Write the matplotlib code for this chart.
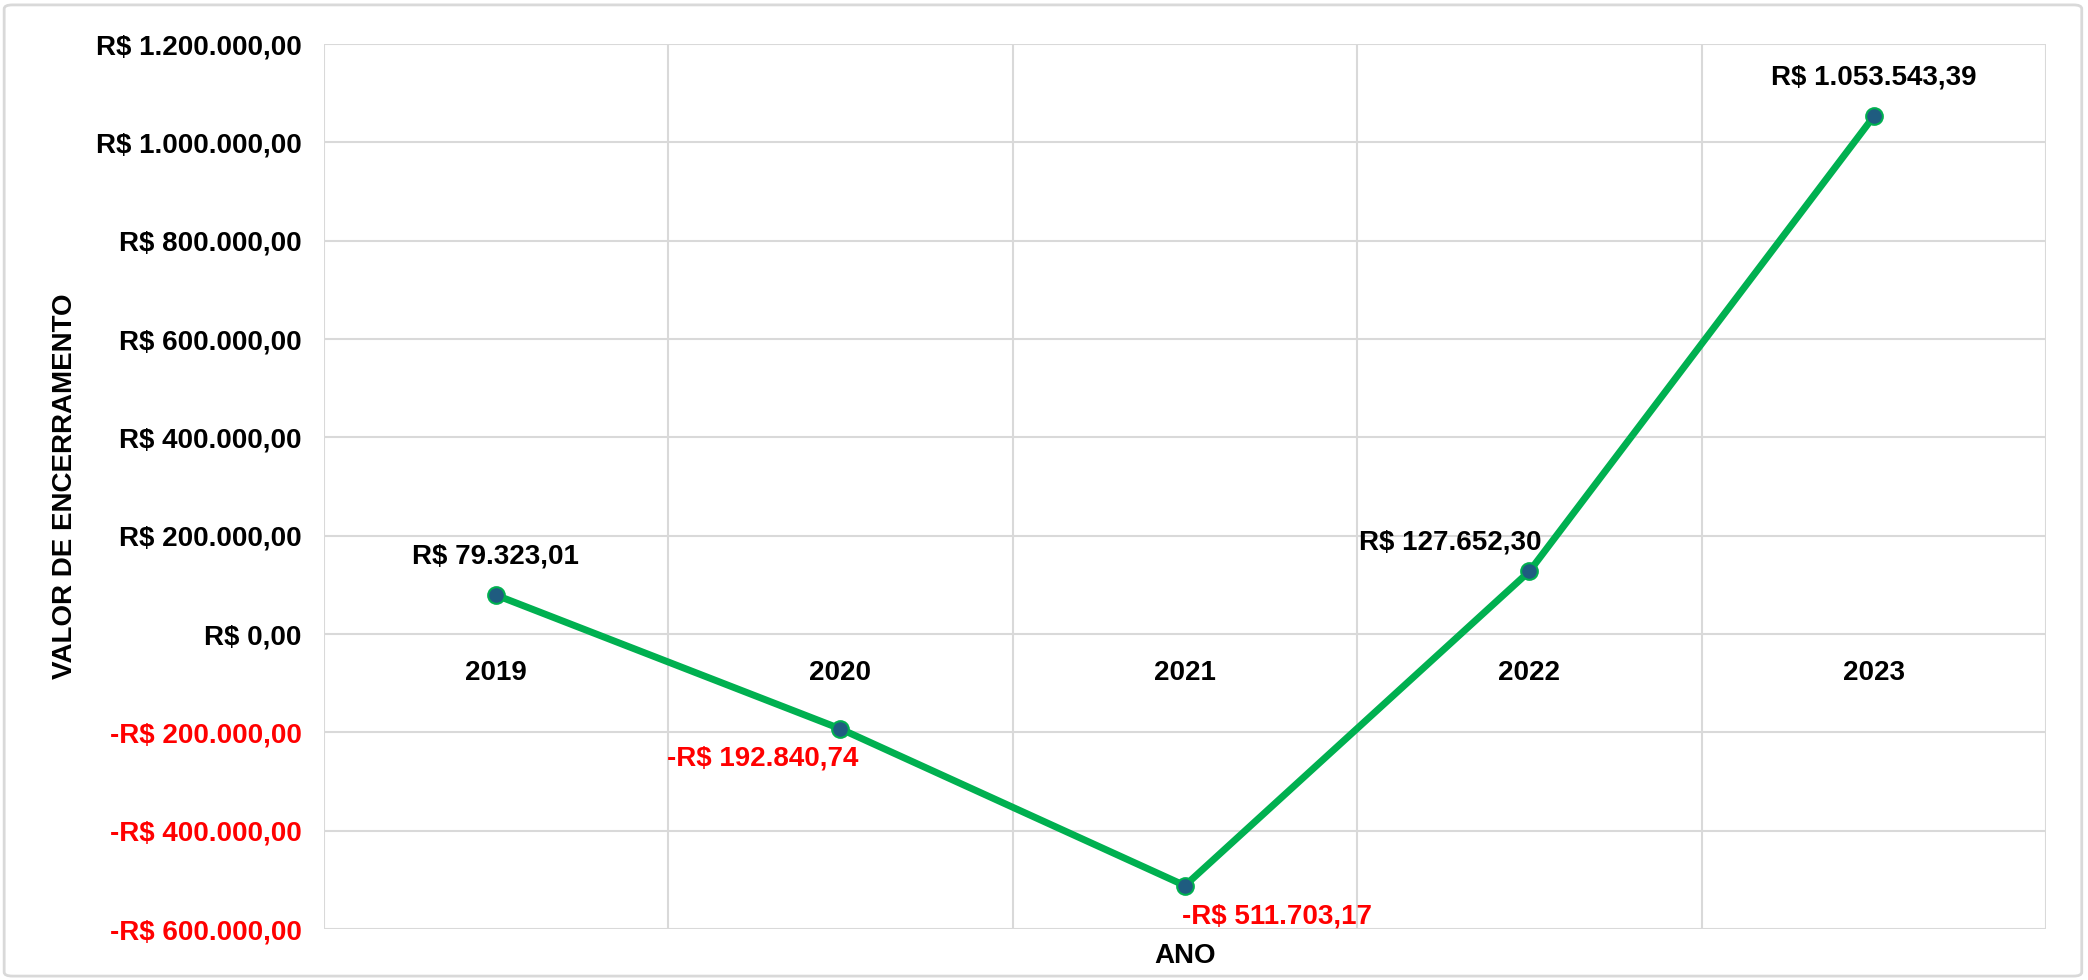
import matplotlib
matplotlib.use("Agg")
import matplotlib.pyplot as plt
from matplotlib.patches import FancyBboxPatch
from matplotlib.ticker import FuncFormatter, FixedLocator

years = ["2019", "2020", "2021", "2022", "2023"]
values = [79323.01, -192840.74, -511703.17, 127652.30, 1053543.39]
# label offsets in points (dx, dy) relative to each point
label_offsets = [(0, 28), (-56, -21), (66, -22), (-57, 21), (0, 28)]
y_ticks = [-600000, -400000, -200000, 0, 200000, 400000, 600000, 800000, 1000000, 1200000]

GREEN = "#00B050"
MARKER = "#1F5C80"
GRID = "#D9D9D9"
RED = "#FF0000"
FONT = ["Liberation Sans", "DejaVu Sans"]


def brl(v, decimals=2):
    s = f"{abs(v):,.{decimals}f}"
    s = s.replace(",", "X").replace(".", ",").replace("X", ".")
    return ("-R$ " if v < 0 else "R$ ") + s


plt.rcParams["font.family"] = FONT

fig = plt.figure(figsize=(20.88, 9.80), dpi=100)
ax = fig.add_axes([0.155, 0.052, 0.825, 0.903])

x = list(range(len(years)))
ax.plot(x, values, color=GREEN, linewidth=5, marker="o", markersize=12,
        markerfacecolor=MARKER, markeredgecolor=GREEN, markeredgewidth=1.5,
        zorder=3, solid_capstyle="round")

ax.set_xlim(-0.5, len(years) - 0.5)
ax.set_ylim(y_ticks[0], y_ticks[-1])

# y axis
ax.yaxis.set_major_locator(FixedLocator(y_ticks))
ax.yaxis.set_major_formatter(FuncFormatter(lambda v, p: brl(v)))
ax.tick_params(axis="y", length=0, pad=16, labelsize=20)
fig.canvas.draw()
for lbl in ax.get_yticklabels():
    v = lbl.get_position()[1]
    lbl.set_color(RED if v < 0 else "black")
    lbl.set_fontweight("bold")

# x axis: labels next to zero line, grid at category boundaries
ax.spines["bottom"].set_position(("data", 0))
ax.xaxis.set_major_locator(FixedLocator(x))
ax.set_xticklabels(years, fontweight="bold", fontsize=20)
ax.xaxis.set_minor_locator(FixedLocator([i - 0.5 for i in range(len(years) + 1)]))
ax.tick_params(axis="x", which="both", length=0, pad=19)

ax.grid(axis="y", which="major", color=GRID, linewidth=1.5)
ax.grid(axis="x", which="minor", color=GRID, linewidth=1.5)
ax.grid(axis="x", which="major", visible=False)
for sp in ax.spines.values():
    sp.set_visible(False)
ax.set_axisbelow(True)

# data labels
for xi, v, (dx, dy) in zip(x, values, label_offsets):
    ax.annotate(brl(v), xy=(xi, v), xytext=(dx, dy), textcoords="offset points",
                ha="center", va="center", fontsize=20, fontweight="bold",
                color=RED if v < 0 else "black", zorder=4)

ax.text(0.5, -0.03, "ANO", transform=ax.transAxes, ha="center", va="center",
        fontsize=20, fontweight="bold")
fig.text(0.031, 0.504, "VALOR DE ENCERRAMENTO", rotation=90, ha="center",
         va="center", fontsize=20, fontweight="bold")

# outer chart border
border = FancyBboxPatch((0.002, 0.004), 0.995, 0.991, boxstyle="round,pad=0,rounding_size=0.004",
                        transform=fig.transFigure, fill=False, edgecolor=GRID, linewidth=2)
fig.patches.append(border)

fig.savefig("out.png", dpi=100)
